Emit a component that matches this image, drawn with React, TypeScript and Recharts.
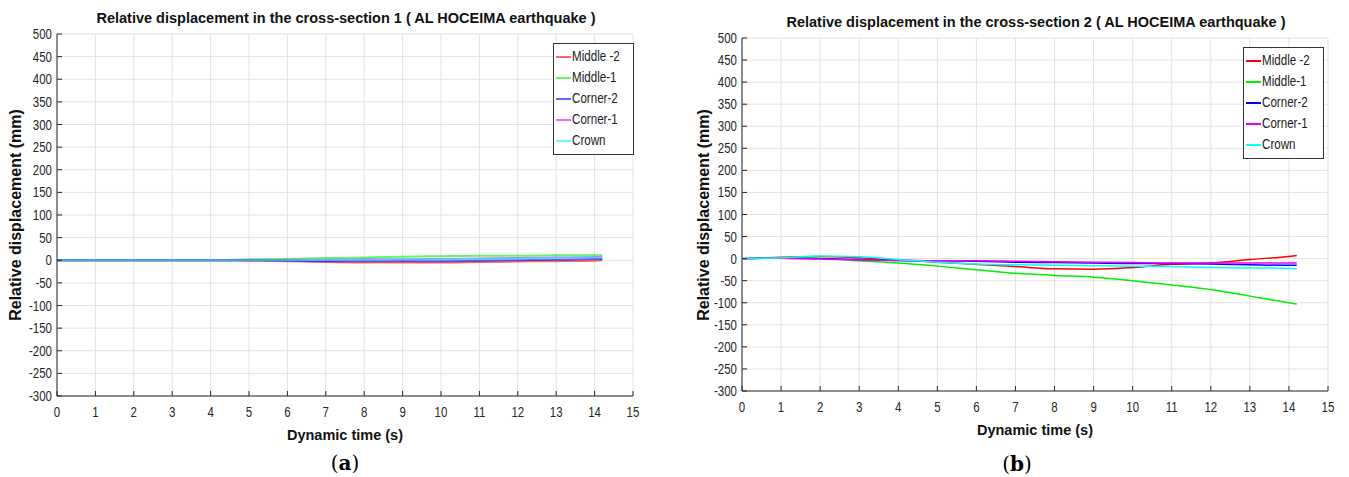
import { LineChart, Line, XAxis, YAxis, CartesianGrid } from 'recharts'

const time = [0, 1, 2, 3, 4, 5, 6, 7, 8, 9, 10, 11, 12, 13, 14, 14.2]
const xTicks = [0, 1, 2, 3, 4, 5, 6, 7, 8, 9, 10, 11, 12, 13, 14, 15]
const yTicks = [-300, -250, -200, -150, -100, -50, 0, 50, 100, 150, 200, 250, 300, 350, 400, 450, 500]

// cross-section 1
const s1Middle2 = [0, 0, 0, 0, 0, -1, -2, -4, -5, -5, -5, -4, -3, -2, -1, 0]
const s1Middle1 = [0, 0, 0, 0, 0, 2, 3, 5, 6, 8, 9, 10, 10, 11, 11, 11]
const s1Corner2 = [0, 0, 0, 0, 0, 0, -1, -2, -2, -2, -2, -1, 0, 1, 3, 3]
const s1Corner1 = [0, 0, 0, 0, 0, 0, 1, 1, 2, 2, 3, 4, 5, 6, 7, 8]
const s1Crown = [0, 0, 0, 0, 0, 0, 0, 1, 1, 2, 2, 3, 4, 5, 6, 6]

// cross-section 2
const s2Middle2 = [0, 3, 5, 2, -3, -8, -13, -18, -23, -24, -20, -13, -10, -2, 5, 7]
const s2Middle1 = [0, 2, 1, -5, -10, -17, -25, -33, -38, -42, -50, -60, -70, -85, -100, -103]
const s2Corner2 = [0, 1, 0, -2, -4, -5, -6, -8, -9, -10, -11, -11, -12, -14, -15, -15]
const s2Corner1 = [0, 1, -1, -3, -4, -5, -5, -6, -7, -8, -9, -10, -10, -10, -10, -10]
const s2Crown = [0, 2, 6, 4, -2, -8, -12, -14, -15, -16, -17, -18, -20, -21, -22, -23]

const seriesNames = ['Middle -2', 'Middle-1', 'Corner-2', 'Corner-1', 'Crown']
const seriesKeys = ['m2', 'm1', 'c2', 'c1', 'cr']
const seriesColors = ['#ff0000', '#00ee00', '#0000ff', '#ee00ee', '#00ffff']

const build = (cols: number[][]) =>
  time.map((t, i) => {
    const row: any = { t }
    seriesKeys.forEach((k, j) => { row[k] = cols[j][i] })
    return row
  })

const data1 = build([s1Middle2, s1Middle1, s1Corner2, s1Corner1, s1Crown])
const data2 = build([s2Middle2, s2Middle1, s2Corner2, s2Corner1, s2Crown])

const SANS = '"Liberation Sans", Arial, sans-serif'
const AXIS = '#262626'

// narrow-looking tick text: squeeze Liberation Sans horizontally
function YTick({ x, y, payload }: any) {
  return (
    <g>
      <line x1={x + 4} x2={x + 9} y1={y} y2={y} stroke={AXIS} />
      <text transform={`translate(${x - 1},${y}) scale(0.82,1)`} dy={5} textAnchor="end"
        fontSize={14} fill={AXIS} fontFamily={SANS}>
        {payload.value}
      </text>
    </g>
  )
}

function XTick({ x, y, payload }: any) {
  return (
    <g>
      <line x1={x} x2={x} y1={y - 4} y2={y - 9} stroke={AXIS} />
      <text transform={`translate(${x},${y + 17}) scale(0.82,1)`} textAnchor="middle"
        fontSize={14} fill={AXIS} fontFamily={SANS}>
        {payload.value}
      </text>
    </g>
  )
}

function LegendBox({ left, top, opacity }: { left: number; top: number; opacity: number }) {
  return (
    <div style={{
      position: 'absolute', left, top, width: 77,
      border: '1px solid #333', background: '#fff', padding: '2px 0 3px 2px',
      fontFamily: SANS, fontSize: 14.5, color: '#222', lineHeight: '21px',
    }}>
      {seriesNames.map((n, i) => (
        <div key={n} style={{ display: 'flex', alignItems: 'center', whiteSpace: 'nowrap' }}>
          <span style={{ display: 'inline-block', width: 15, height: 2, background: seriesColors[i], opacity, marginRight: 1, flex: 'none' }} />
          <span style={{ display: 'inline-block', transform: 'scaleX(0.8)', transformOrigin: 'left center' }}>{n}</span>
        </div>
      ))}
    </div>
  )
}

interface PanelProps {
  left: number
  width: number
  data: any[]
  yAxisWidth: number
  marginTop: number
  marginRight: number
  marginBottom: number
  strokeWidth: number
  opacity: number
}

function Panel(p: PanelProps) {
  return (
    <div style={{ position: 'absolute', left: p.left, top: 0 }}>
      <LineChart width={p.width} height={430} data={p.data}
        margin={{ top: p.marginTop, right: p.marginRight, left: 0, bottom: p.marginBottom }}>
        <CartesianGrid stroke="#e2e2e2" strokeWidth={1} />
        <XAxis dataKey="t" type="number" domain={[0, 15]} ticks={xTicks} interval={0}
          height={20} tickSize={0} tickMargin={4} tick={<XTick />} stroke={AXIS} />
        <YAxis type="number" domain={[-300, 500]} ticks={yTicks} interval={0}
          width={p.yAxisWidth} tickSize={0} tickMargin={4} tick={<YTick />} stroke={AXIS} />
        {seriesKeys.map((k, i) => (
          <Line key={k} type="monotone" dataKey={k} name={seriesNames[i]} stroke={seriesColors[i]}
            strokeWidth={p.strokeWidth} strokeOpacity={p.opacity} dot={false} isAnimationActive={false} />
        ))}
      </LineChart>
    </div>
  )
}

const centered = (x: number, y: number): React.CSSProperties => ({
  position: 'absolute', left: x, top: y, transform: 'translate(-50%, -50%)', whiteSpace: 'nowrap',
})

const titleStyle: React.CSSProperties = { fontFamily: SANS, fontWeight: 'bold', fontSize: 14.5, color: '#111' }
const yLabelStyle: React.CSSProperties = { fontFamily: SANS, fontWeight: 'bold', fontSize: 16, color: '#111' }
const xLabelStyle: React.CSSProperties = { fontFamily: SANS, fontWeight: 'bold', fontSize: 14.5, color: '#111' }
const capStyle: React.CSSProperties = { fontFamily: '"DejaVu Serif", "Liberation Serif", serif', fontSize: 20, color: '#000' }

export default function App() {
  return (
    <div style={{ position: 'absolute', left: 0, top: 0, width: 1349, height: 477, background: '#fff', overflow: 'hidden' }}>
      <Panel left={0} width={660} data={data1} yAxisWidth={57} marginTop={34} marginRight={27} marginBottom={14}
        strokeWidth={2} opacity={0.6} />
      <Panel left={680} width={669} data={data2} yAxisWidth={62} marginTop={38} marginRight={21} marginBottom={19}
        strokeWidth={1.5} opacity={1} />

      <LegendBox left={553} top={43} opacity={0.6} />
      <LegendBox left={1243} top={47} opacity={1} />

      <div style={{ ...centered(346, 18), ...titleStyle }}>
        Relative displacement in the cross-section 1 ( AL HOCEIMA earthquake )
      </div>
      <div style={{ ...centered(1036, 22), ...titleStyle }}>
        Relative displacement in the cross-section 2 ( AL HOCEIMA earthquake )
      </div>

      <div style={{ ...centered(16, 215), transform: 'translate(-50%, -50%) rotate(-90deg)', ...yLabelStyle }}>
        Relative displacement (mm)
      </div>
      <div style={{ ...centered(704, 215), transform: 'translate(-50%, -50%) rotate(-90deg)', ...yLabelStyle }}>
        Relative displacement (mm)
      </div>

      <div style={{ ...centered(345, 435), ...xLabelStyle }}>
        Dynamic time (s)
      </div>
      <div style={{ ...centered(1035, 430), ...xLabelStyle }}>
        Dynamic time (s)
      </div>

      <div style={{ ...centered(345, 463), ...capStyle }}>
        (<b>a</b>)
      </div>
      <div style={{ ...centered(1017, 464), ...capStyle }}>
        (<b>b</b>)
      </div>
    </div>
  )
}
